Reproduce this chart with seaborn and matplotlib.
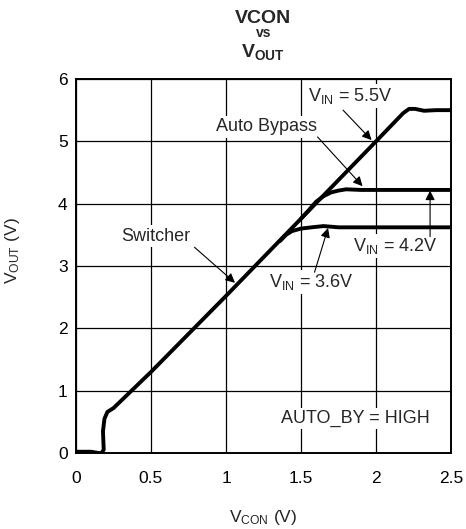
import matplotlib
matplotlib.use("Agg")
import matplotlib.pyplot as plt
import seaborn as sns

# dane
vcon_55 = [0.0, 0.05, 0.10, 0.15, 0.17, 0.185, 0.18, 0.19, 0.21, 0.25, 0.5, 1.0, 1.5, 2.0, 2.12, 2.18, 2.22, 2.26, 2.32, 2.40, 2.50]
vout_55 = [0.02, 0.02, 0.02, 0.0, 0.0, 0.05, 0.35, 0.55, 0.66, 0.72, 1.30, 2.52, 3.76, 5.0, 5.30, 5.45, 5.52, 5.52, 5.49, 5.50, 5.50]

vcon_42 = [1.50, 1.55, 1.60, 1.65, 1.70, 1.75, 1.80, 1.90, 2.20, 2.50]
vout_42 = [3.76, 3.89, 4.03, 4.12, 4.18, 4.21, 4.23, 4.22, 4.22, 4.22]

vcon_36 = [1.36, 1.40, 1.44, 1.50, 1.57, 1.65, 1.75, 2.00, 2.50]
vout_36 = [3.40, 3.50, 3.56, 3.60, 3.62, 3.64, 3.62, 3.62, 3.62]

x_ticks = [0, 0.5, 1, 1.5, 2, 2.5]
x_labels = ["0", "0.5", "1", "1.5", "2", "2.5"]
y_ticks = [0, 1, 2, 3, 4, 5, 6]

sns.set_theme(style="white")
plt.rcParams['font.family'] = ['Liberation Sans', 'DejaVu Sans']
plt.rcParams['mathtext.fontset'] = 'custom'
plt.rcParams['mathtext.rm'] = 'Liberation Sans'
plt.rcParams['mathtext.it'] = 'Liberation Sans'
plt.rcParams['mathtext.bf'] = 'Liberation Sans:bold'

fig = plt.figure(figsize=(4.66, 5.29), dpi=100)
ax = fig.add_axes([0.163, 0.1437, 0.805, 0.707])

for xs, ys in [(vcon_55, vout_55), (vcon_42, vout_42), (vcon_36, vout_36)]:
    sns.lineplot(x=xs, y=ys, sort=False, color='black', lw=2.8, ax=ax,
                 solid_joinstyle='round', solid_capstyle='round', zorder=3)

ax.set_xlim(0, 2.5)
ax.set_ylim(0, 6)
ax.set_xticks(x_ticks)
ax.set_xticklabels(x_labels)
ax.set_yticks(y_ticks)
ax.tick_params(axis='x', length=0, pad=13, labelsize=12.5, colors='black')
ax.tick_params(axis='y', length=0, pad=6, labelsize=12.5, colors='black')
ax.grid(True, color='black', lw=0.9)
for s in ax.spines.values():
    s.set_color('black')
    s.set_linewidth(1.4)

ax.set_xlabel(r'V$_{\mathrm{CON}}$ (V)', fontsize=12.5, labelpad=16)
ax.set_ylabel(r'V$_{\mathrm{OUT}}$ (V)', fontsize=12.5)
ax.yaxis.set_label_coords(-0.145, 0.54)

# tytuł w trzech liniach
fig.text(0.565, 0.965, 'VCON', ha='center', va='center', fontsize=14, fontweight='bold')
fig.text(0.565, 0.937, 'vs', ha='center', va='center', fontsize=10, fontweight='bold')
fig.text(0.565, 0.901, r'$\mathbf{V_{OUT}}$', ha='center', va='center', fontsize=14)

box = dict(facecolor='white', edgecolor='none', pad=1.5)
labels = [
    (1.83, 5.73, r'V$_{\mathrm{IN}}$ = 5.5V'),
    (1.27, 5.23, 'Auto Bypass'),
    (0.53, 3.48, 'Switcher'),
    (2.13, 3.32, r'V$_{\mathrm{IN}}$ = 4.2V'),
    (1.57, 2.74, r'V$_{\mathrm{IN}}$ = 3.6V'),
    (1.86, 0.55, 'AUTO_BY = HIGH'),
]
for tx, ty, t in labels:
    ax.text(tx, ty, t, ha='center', va='center', fontsize=13, bbox=box, zorder=4)

arrows = [
    ((1.78, 5.50), (1.97, 5.02)),
    ((1.61, 5.07), (1.91, 4.28)),
    ((0.79, 3.30), (1.06, 2.73)),
    ((2.36, 3.47), (2.36, 4.21)),
    ((1.59, 2.90), (1.68, 3.61)),
]
for start, end in arrows:
    ax.annotate('', xy=end, xytext=start,
                arrowprops=dict(arrowstyle='-|>', color='black', lw=0.8,
                                mutation_scale=14, shrinkA=0, shrinkB=0),
                zorder=5)

fig.savefig('out.png', dpi=100)
